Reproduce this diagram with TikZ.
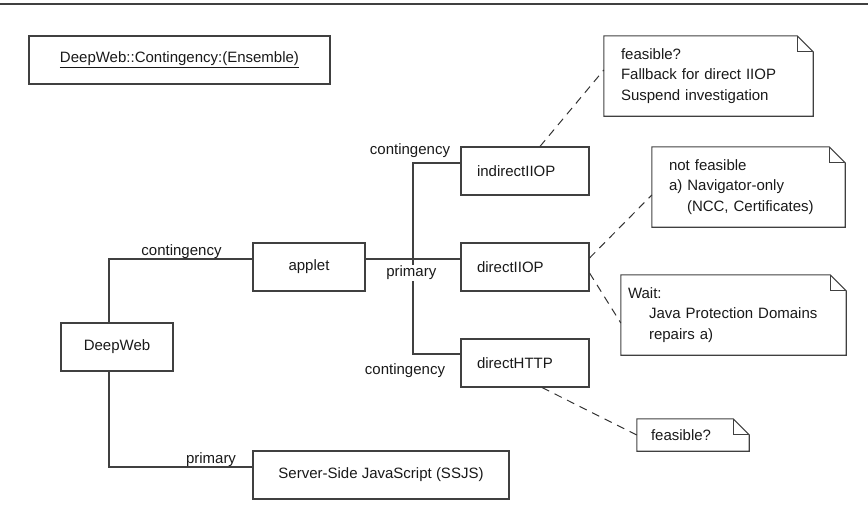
\documentclass[tikz,border=0pt]{standalone}
\usepackage{fontspec}
\setmainfont{Liberation Sans}
\newcommand\dfont{\fontsize{15}{20.5}\selectfont}
\begin{document}
\begin{tikzpicture}[x=1pt,y=-1pt,
  ln/.style={draw=black!75, line width=1.1pt},
  dsh/.style={draw=black!80, line width=1pt, dash pattern=on 8pt off 6pt},
  box/.style={ln, rectangle, inner sep=0pt, minimum height=48pt, font=\dfont, text=black!90},
  lbox/.style={box, minimum width=128pt, text width=96pt, inner xsep=16pt, align=left},
  note/.style={rectangle, inner ysep=0pt, font=\dfont, text=black!90, align=left},
  lbl/.style={font=\dfont, text=black!90, inner sep=1pt, anchor=base}
]
\useasboundingbox (0,0) rectangle (868,530);
\coordinate (ruleL) at (0,4);
\coordinate (ruleR) at (868,4);
\draw[ln] (ruleL) -- (ruleR);

\node[box, minimum width=301pt] (title) at (179.5,60) {\underline{DeepWeb::Contingency:(Ensemble)}};
\node[box, minimum width=112pt] (deepweb) at (117,347) {DeepWeb};
\node[box, minimum width=112pt] (applet) at (309,267) {applet};
\node[box, minimum width=256pt] (ssjs) at (381,475) {Server-Side JavaScript (SSJS)};
\node[lbox] (indirectIIOP) at (525,171) {indirectIIOP};
\node[lbox] (directIIOP) at (525,267) {directIIOP};
\node[lbox] (directHTTP) at (525,363) {directHTTP};

\node[note, minimum width=209pt, minimum height=80pt, inner xsep=17pt, text width=175pt] (note1) at (708.5,76)
  {feasible?\\Fallback for direct IIOP\\Suspend investigation};
\node[note, minimum width=193pt, minimum height=80pt, inner xsep=17pt, text width=159pt] (note2) at (748.5,187)
  {not feasible\\a) Navigator-only\\\hspace*{18pt}(NCC, Certificates)};
\node[note, minimum width=225pt, minimum height=80pt, inner xsep=7pt, text width=211pt] (note3) at (733.5,315)
  {Wait:\\\hspace*{21pt}Java Protection Domains\\\hspace*{21pt}repairs a)};
\node[note, minimum width=112pt, minimum height=32pt, inner xsep=14pt, text width=84pt] (note4) at (693,435)
  {feasible?};

\foreach \n in {note1,note2,note3,note4} {
  \draw[ln, line join=miter] (\n.north west) -- ([xshift=-16pt]\n.north east) -- ([yshift=-16pt]\n.north east)
     -- (\n.south east) -- (\n.south west) -- cycle;
  \draw[ln] ([xshift=-16pt]\n.north east) |- ([yshift=-16pt]\n.north east);
}

% solid connectors
\draw[ln] ([xshift=-8pt]deepweb.north) |- ([yshift=8pt]applet.west);
\draw[ln] ([xshift=-8pt]deepweb.south) |- ([yshift=8pt]ssjs.west);
\coordinate (bus) at (413,259);
\draw[ln] ([yshift=8pt]applet.east) -- ([yshift=8pt]directIIOP.west);
\draw[ln] ([yshift=8pt]indirectIIOP.west) -| (bus);
\draw[ln] ([yshift=9pt]directHTTP.west) -| (bus);

% labels
\node[lbl] (l1) at (181.5,255) {contingency};
\node[lbl, fill=white] (l2) at (411.3,276.5) {primary};
\node[lbl] (l3) at (410,154) {contingency};
\node[lbl] (l4) at (405,374) {contingency};
\node[lbl] (l5) at (211,463) {primary};

% dashed note links
\draw[dsh] ([xshift=15pt]indirectIIOP.north) -- ([yshift=6pt]note1.west);
\draw[dsh] ([yshift=9pt]directIIOP.east) -- ([yshift=-8pt]note2.west);
\draw[dsh] ([yshift=-6pt]directIIOP.east) -- ([yshift=-8pt]note3.west);
\draw[dsh] ([xshift=17pt]directHTTP.south) -- (note4.west);
\end{tikzpicture}
\end{document}
